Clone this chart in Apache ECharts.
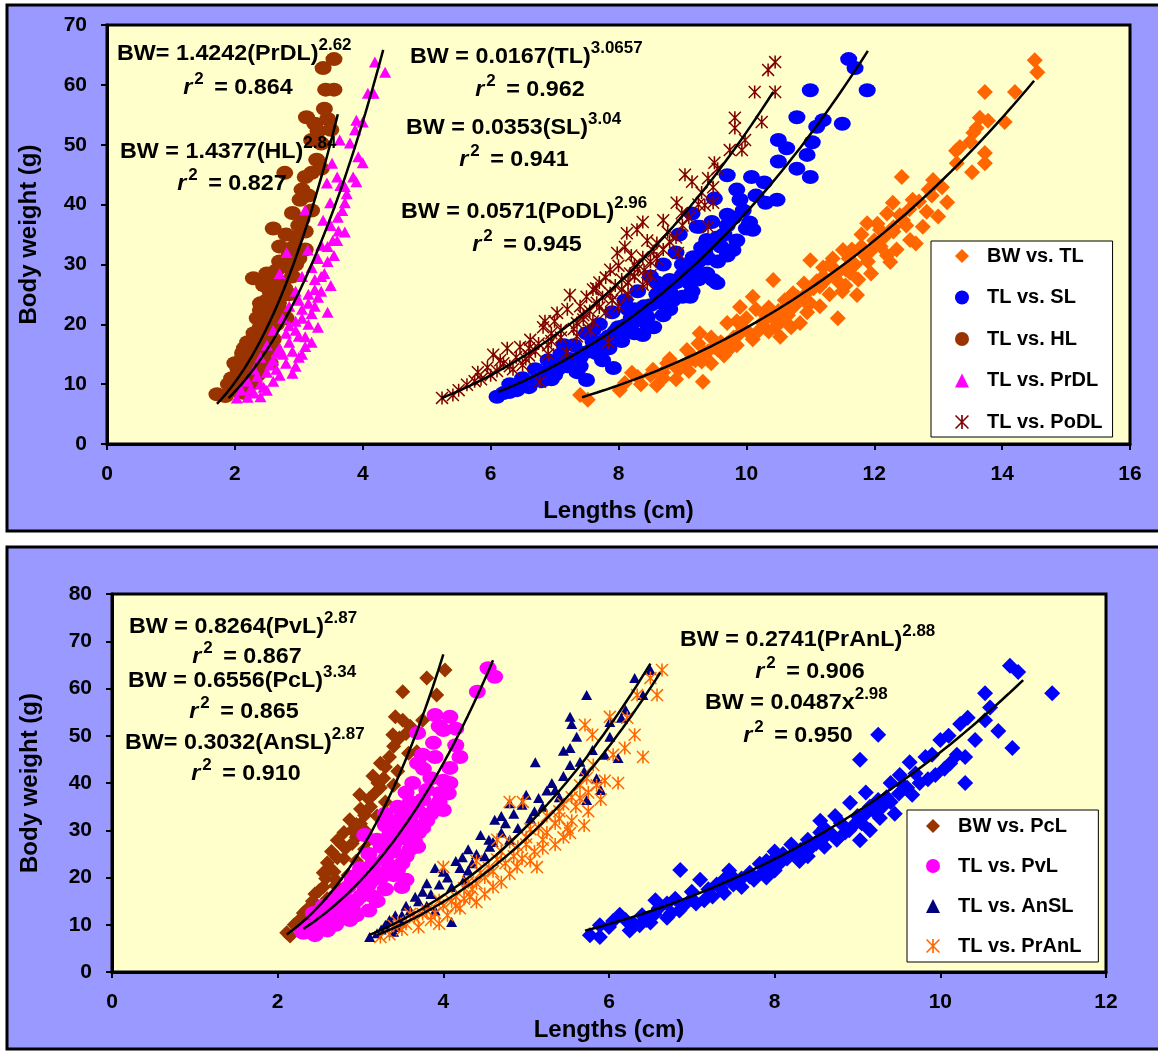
<!DOCTYPE html>
<html><head><meta charset="utf-8">
<script src="https://cdn.jsdelivr.net/npm/echarts@6/dist/echarts.min.js"></script>
<style>html,body{margin:0;padding:0;background:#fff}#c{width:1158px;height:1053px}</style>
</head><body><div id="c"></div>
<script>
// ================= DATA =================
// axis ticks
const topXTicks = [0, 2, 4, 6, 8, 10, 12, 14, 16];
const topYTicks = [0, 10, 20, 30, 40, 50, 60, 70];
const botXTicks = [0, 2, 4, 6, 8, 10, 12];
const botYTicks = [0, 10, 20, 30, 40, 50, 60, 70, 80];

// top panel series  [length cm, body weight g]
const top_BW_TL = [[14.51,64.1],[14.55,62.1],[13.73,58.8],[14.2,58.8],[13.65,54.5],[13.78,54],[14.04,53.8],[13.6,52.8],[13.55,52],[13.34,49.6],[13.28,49],[13.73,48.6],[13.73,46.9],[13.53,45.4],[13.29,46.9],[12.43,44.6],[12.92,44.1],[13.06,42.9],[12.29,40.3],[12.6,40.8],[13.14,40.4],[12.82,38.8],[12.76,36.3],[12.45,37.4],[11.89,36.9],[12.09,35.8],[12.56,34.1],[12.25,30.4],[11.51,32.4],[11.62,28.6],[11.0,30.7],[11.73,24.9],[11.43,21.0],[10.42,27.4],[10.1,24.6],[10.73,25.2],[10.84,20.2],[10.53,17.9],[9.9,22.9],[9.7,20.2],[9.27,18.5],[9.07,15.7],[8.76,13.5],[8.54,12.4],[8.21,11.9],[8.02,9.0],[9.32,10.4],[7.4,8.2],[7.52,7.4],[12.2,38.5],[12.0,34],[11.8,33],[12.35,32.5],[11.3,30],[11.6,31],[11.9,30.5],[11.2,28],[11.45,27],[11.75,27.5],[11.05,26],[11.3,25],[10.9,24],[11.15,23],[10.6,22.5],[10.95,22],[10.3,21.5],[10.55,20.5],[10.2,19],[10.45,19.5],[9.9,18.5],[10.1,17.5],[9.6,17],[9.85,16.5],[9.4,15.5],[9.65,14.8],[9.2,14],[9.45,13.5],[8.9,12.8],[9.1,12.2],[8.7,11],[8.9,10.8],[8.35,10],[8.6,9.8],[12.5,36.5],[12.9,41.5],[13.0,38],[11.95,28.5],[10.75,23],[12.65,33.5],[13.5,50.5],[12.1,33],[11.4,29],[10.65,21.5],[9.55,15.8],[8.1,10.2],[11.1,27.2],[12.3,35.5],[10.35,18.8],[9.75,16],
  [8.3,11.2],[8.5,11.5],[8.7,12],[8.95,12.5],[9.05,13.2],[9.3,13.8],[9.15,14.8],[9.35,15.2],[9.5,16.2],[9.7,16.8],[9.8,17.8],[9.95,19.3],[10.05,18.5],[10.25,20.3],[10.4,21.2],[10.5,22.2],[10.65,23.4],[10.8,24.5],[10.95,25.3],[11.15,26.3],[11.25,27.5],[11.4,28.3],[11.55,29.2],[11.7,30],[11.85,31.5],[11.95,32.3],[12.15,34.5],[12.3,36.2],[12.4,38.2],[12.55,39.2],[12.7,40.5],[12.85,42.5],[11.5,25.5],[11.0,23.5],[10.35,22.8],[9.85,20.5],[9.25,16.8],[8.8,14.2],[10.6,24],[11.2,29.5],[11.65,32.5],[12.05,36.8],[9.45,17.8],[10.0,21],[10.15,22.5],[10.9,26.8],[11.35,31],[11.8,35],[12.2,31.5],[11.55,26.5],[10.7,19.5]];
const top_TL_SL = [[11.6,64.3],[11.7,62.8],[11.89,59.1],[11.0,59.1],[10.79,54.6],[11.2,54.1],[11.5,53.5],[11.1,53],[11.03,50.4],[10.5,50.8],[10.63,49.4],[10.95,48.3],[10.5,47.2],[10.79,46],[11.0,44.6],[9.7,44.9],[10.08,44.6],[10.28,43.7],[10.48,40.8],[10.3,40.3],[9.9,40.8],[10.1,35.8],[10.05,37],[9.46,37.1],[9.27,36.3],[9.7,38.3],[9.38,34.1],[9.79,32.4],[9.17,31.2],[9.48,27.4],[9.38,28.5],[9.0,24.6],[8.8,27.4],[8.65,23.6],[8.45,21.2],[8.38,18.2],[8.02,18.5],[7.92,12.7],[7.5,10.7],[6.1,7.9],[6.41,9.0],[9.12,24.6],[9.54,26.9],[9.23,36.3],[9.6,33],[9.0,30],[9.2,29],[8.9,32],[8.7,30],[8.5,28],[8.75,26],[8.3,25.5],[8.6,25],[8.1,24],[8.4,23],[7.9,22],[8.2,21],[7.7,20],[8.0,19.5],[7.5,18.5],[7.8,17.5],[7.3,16.5],[7.6,16],[7.1,15],[7.4,14.5],[6.9,14],[7.2,13],[6.7,12.5],[7.0,11.5],[6.5,11],[6.8,10.5],[6.3,10],[6.6,9.5],[6.2,8.5],[8.8,22.5],[9.1,27],[8.55,19.5],[7.75,14],[7.35,12],[9.4,31],[9.65,35],[8.95,35],[9.15,38.5],[9.5,41],[9.85,42.5],[8.25,22.5],[7.6,17.2],[6.95,12.8],[8.6,27],[9.3,32.8],
  [6.3,8.7],[6.45,9.8],[6.55,10.2],[6.75,11.2],[6.85,12],[7.05,12.5],[7.15,13.8],[7.25,14.2],[7.45,15.2],[7.55,15.5],[7.7,16.8],[7.85,18],[7.95,18.8],[8.1,19.8],[8.25,20.5],[8.35,21.8],[8.5,23.2],[8.65,24.5],[8.8,25.5],[8.9,27],[9.0,28.2],[9.1,29.8],[9.25,30.5],[9.35,32],[9.45,33.5],[9.55,34.5],[9.7,36.5],[9.8,37.8],[9.95,39],[10.15,41.5],[7.0,13.3],[7.3,14],[7.65,15.2],[8.05,17.2],[8.45,20],[8.85,24],[9.25,27.5],[9.55,30.5],[9.7,31.5],[9.85,34],[10.0,36],[6.95,10.8],[7.4,13],[7.85,16],[8.25,18.5],[8.7,21.5],[9.15,25.5],[8.15,22.5],[7.6,19],[7.15,16.5]];
const top_TL_HL = [[3.38,62.8],[3.55,64.3],[3.42,59.2],[3.55,59.2],[3.12,54.6],[3.25,53.5],[3.45,54.3],[3.3,52.3],[3.2,50.8],[3.35,50.2],[3.1,44.6],[3.2,45.3],[2.78,45.3],[3.28,47.5],[3.35,46],[3.02,40.8],[3.15,41.5],[2.9,38.6],[3.05,37.5],[3.2,39],[2.6,36],[2.8,35],[2.95,34.5],[3.1,35.5],[2.7,33],[2.85,31.5],[3.0,31],[3.1,32.5],[2.29,27.7],[2.5,28.5],[2.65,29],[2.75,27],[2.9,28],[2.95,30],[2.55,25.5],[2.7,24.5],[2.85,25],[2.4,23.5],[2.6,22.5],[2.75,22],[2.5,24],[2.35,21],[2.5,20.5],[2.65,20],[2.8,21],[2.3,18.5],[2.45,18],[2.6,17.5],[2.2,17],[2.15,16],[2.3,15.5],[2.45,15],[2.6,16],[2.1,14],[2.25,13.5],[2.4,13],[2.55,13.5],[2.05,12.5],[2.2,12],[2.35,11.5],[1.95,11],[2.1,10.5],[2.25,10],[1.9,10],[2.0,9],[1.72,8.3],[1.85,8],[2.15,8.5],[2.4,19.5],[2.55,19],[2.35,16.5],[2.0,13.5],[2.45,26.5],[2.62,26.8],[2.85,29.5],
  [2.05,11.2],[2.18,13],[2.28,14.2],[2.38,16],[2.5,17.2],[2.55,21.5],[2.68,23.5],[2.78,26],[2.9,32.8],[3.0,36.5],[2.4,22.3],[2.12,15.2],[2.7,30.5],[3.05,42.5],[3.4,56],[3.5,52.5]];
const top_TL_PrDL = [[4.19,63.8],[4.35,62.1],[4.08,58.6],[4.17,58.6],[3.9,54.1],[4.0,53.8],[3.88,52.5],[3.64,50.8],[3.8,50.3],[3.93,48],[4.0,47],[3.52,46.9],[3.6,44.6],[3.85,44.6],[3.44,43.6],[3.65,43.2],[3.72,43],[3.9,43.8],[3.49,40.3],[3.72,40.3],[3.1,39.1],[3.38,37.4],[3.61,37.9],[3.62,35.6],[3.72,35.4],[3.53,34],[3.6,34],[2.81,32],[3.14,32.4],[3.3,31],[3.45,30.5],[3.55,31.5],[2.7,28.5],[3.05,28],[3.25,27.5],[3.4,28.5],[3.5,26.5],[2.95,25.5],[3.15,25],[3.35,25.5],[2.85,23],[3.05,22.5],[3.25,23],[3.45,22],[2.75,21],[2.95,20.5],[3.15,20],[3.3,19.5],[2.6,19],[2.8,18.5],[3.0,18],[3.1,17.9],[3.2,17],[2.5,16.5],[2.7,16],[2.9,15.5],[3.05,15],[2.4,14.5],[2.6,14],[2.8,13.5],[2.95,13],[2.3,12.5],[2.5,12],[2.7,11.5],[2.2,10.5],[2.4,10],[2.6,10.5],[2.1,9],[2.3,8.5],[2.5,9],[2.03,7.7],[2.2,7.8],[2.4,7.9],[3.2,29.5],[3.0,24],[2.85,19.8],[2.65,15.2],[3.35,33.2],
  [2.35,11.3],[2.55,13.2],[2.75,15],[2.85,17],[2.95,19],[3.05,21],[3.15,23.5],[3.25,25.8],[3.35,28],[3.45,33],[3.5,36.5],[3.68,39],[3.75,41.8],[2.45,9.5],[2.65,12.5],[3.0,14.5],[3.1,16.3],[3.2,21.8],[3.3,24.5],[2.9,11.8],[2.25,9.2]];
const top_TL_PoDL = [[10.45,63.8],[10.34,62.5],[10.13,58.8],[10.45,58.8],[9.82,54.5],[10.24,53.8],[9.82,52.8],[9.98,50.8],[9.93,49.1],[9.74,49.1],[9.5,47],[9.55,46],[9.04,45],[9.15,43.8],[9.4,44.4],[9.48,42.9],[8.91,40.3],[8.99,38.6],[9.35,39.9],[9.48,40.3],[9.4,36.3],[8.38,37.1],[8.29,35.8],[8.7,37.4],[8.77,35.4],[8.13,35.2],[8.1,32.9],[8.6,33.6],[8.93,31.9],[8.38,31.2],[7.98,31.9],[7.87,29.1],[8.18,28.5],[8.45,26.9],[8.38,26.6],[7.24,24.9],[7.5,24.6],[7.66,23.6],[7.87,25.2],[8.05,27.5],[8.25,30],[8.5,30.5],[7.7,27],[7.95,26.5],[8.15,25],[7.04,21.9],[7.35,20.2],[7.2,22.5],[7.45,21.5],[7.6,20.5],[7.8,22],[8.0,23],[6.82,19.5],[6.95,18.5],[7.1,19],[6.62,17.4],[6.75,16.8],[6.9,16.5],[6.46,16.2],[6.26,16],[6.4,14.5],[6.6,14.8],[6.04,14.9],[6.2,13.5],[5.8,12],[6.0,11.5],[5.95,12.8],[5.63,9.9],[5.75,10.5],[5.41,8.2],[5.24,7.7],[7.84,17],[6.77,10.4],[7.19,15.2],[7.35,18],[7.55,19],[6.5,13.2],[8.3,29.2],[7.6,25.8],[8.55,32.2],[6.85,20.5],
  [5.5,9],[5.85,10.8],[6.1,12.2],[6.3,13],[6.55,14.2],[6.7,15.5],[6.95,17.2],[7.1,17.8],[7.3,19.2],[7.45,20.8],[7.55,22.2],[7.7,22.8],[7.75,24.5],[7.9,24],[8.05,25.8],[8.15,27],[8.25,28],[8.4,29],[8.5,28.2],[8.6,31],[8.7,32.5],[8.8,33.8],[8.9,34.5],[9.0,36.5],[9.1,37.8],[9.25,40],[9.3,42],[7.0,20.5],[7.4,23],[7.8,27.8],[8.2,31.5],[8.0,29.8],[6.6,16],[6.15,14],[7.65,26],[8.45,34],[6.35,12.5],[6.9,15]];

// bottom panel series
const bot_BW_PcL = [[4.02,63.9],[3.8,62.2],[3.51,59.3],[3.92,58.6],[3.42,54],[3.51,53.3],[3.75,53.3],[3.39,50.2],[3.47,49.5],[3.68,46.6],[3.58,46.3],[3.24,44.2],[3.3,43.4],[3.45,42.5],[3.21,40],[3.24,39],[3.4,39.5],[2.99,37.5],[3.1,36.6],[3.3,36],[2.87,32.2],[3.0,31.4],[3.2,33],[3.35,31],[2.72,27.9],[2.78,26.8],[2.95,28.5],[3.1,28],[2.6,23.1],[2.63,22],[2.8,24],[2.95,23.5],[2.55,18],[2.7,19.5],[2.85,20.5],[2.47,14.2],[2.6,15.5],[2.75,16.5],[2.31,12.5],[2.38,11.5],[2.5,12],[2.2,10],[2.3,9.5],[2.11,8.3],[2.15,7.6],[3.0,34.5],[2.9,30],[2.65,25.5],[2.45,16.5],[3.6,52],[3.15,41.5],[2.8,29.5],[3.05,26],
  [2.25,10.8],[2.35,13.2],[2.42,15],[2.5,17.2],[2.58,19.8],[2.68,21.2],[2.72,24.2],[2.82,26.2],[2.9,27.2],[2.95,31.2],[3.05,33.2],[3.12,35],[3.18,38],[3.28,41],[3.35,45.5],[3.4,47.8],[3.55,50.5],[2.4,12.8],[2.55,21],[2.7,18.3],[3.05,30]];
const bot_TL_PvL = [[4.54,64.3],[4.62,62.5],[4.41,59.3],[3.9,54.4],[4.08,54],[4.0,51.2],[3.69,50.6],[3.88,48.5],[4.2,45.5],[4.08,43.2],[3.69,44.2],[3.76,43],[4.08,40],[3.96,37.9],[4.06,37.8],[3.63,40],[4.0,34.3],[3.9,35],[3.69,26.5],[3.5,18],[2.87,11],[2.31,8.3],[2.43,12.5],[3.55,38],[3.75,36.5],[3.45,35],[3.6,33],[3.8,32],[3.3,31],[3.5,30],[3.7,29.5],[3.2,28],[3.4,27],[3.6,26],[3.1,25],[3.3,24],[3.5,23],[3.0,22],[3.2,21],[3.4,20.5],[2.9,19.5],[3.1,18.5],[3.3,17.5],[2.8,17],[3.0,16],[3.2,15],[2.7,14.5],[2.9,13.5],[3.1,13],[2.6,12.5],[2.8,11.5],[2.5,11],[2.7,10],[2.4,9.5],[2.6,8.8],[2.3,8.5],[2.45,7.8],[3.85,41],[3.3,33.5],[3.05,29],[2.55,14],[3.65,31],[3.4,25.5],[2.95,20.5],[3.55,28.2],
  [2.35,9.5],[2.5,9.8],[2.55,11.5],[2.65,11.8],[2.75,13],[2.85,14.8],[2.95,15.2],[3.05,17],[3.15,19.5],[3.25,20],[3.35,22.5],[3.45,21.8],[3.55,24.5],[3.65,27.8],[3.75,30.5],[3.85,33.5],[3.95,36],[4.0,40.5],[3.9,45.5],[4.15,48],[3.8,38.5],[3.6,36],[3.45,32],[3.25,26.5],[3.15,23],[3.0,19],[2.85,18],[2.7,16],[3.35,29],[3.5,34],[3.7,34],[3.75,46],[3.95,52],[4.15,51.5],[2.95,12],[3.15,16],[2.6,10.5],[3.55,19.5]];
const bot_TL_AnSL = [[6.5,63.9],[6.31,62.2],[5.73,58.6],[6.41,58.6],[5.53,54],[5.55,52.5],[6.01,52.9],[6.15,53.8],[5.61,49.8],[6.01,49.8],[5.53,47.4],[5.45,46.8],[6.11,45.3],[5.11,44.4],[5.53,43.8],[5.31,40],[5.25,38.4],[5.73,36.4],[4.8,35.7],[4.95,35.4],[4.62,32.2],[4.7,33],[5.2,35],[5.05,32.5],[5.4,37],[4.23,24.3],[4.3,26],[4.56,26.5],[4.45,29],[4.7,29.5],[4.9,30.5],[4.15,23.5],[4.4,25],[4.6,27.5],[3.9,22],[3.8,18.8],[4.05,20],[4.3,21.5],[3.66,15.9],[3.85,16.5],[4.1,18],[3.42,12],[3.6,13],[3.8,14],[4.1,10.6],[3.3,10],[3.5,10.5],[3.11,7.4],[3.2,8.2],[3.4,8.5],[5.0,37.5],[5.85,41],[5.65,44.5],[5.9,38.5],[4.75,31.5],[6.2,55.5],
  [3.25,9],[3.35,11],[3.5,12],[3.55,14],[3.7,15],[3.75,17],[3.95,18.5],[4.0,21.2],[4.2,22],[4.35,23],[4.5,24.5],[4.55,28],[4.8,28],[4.85,33.5],[5.1,34],[5.15,36.8],[5.35,38.5],[5.45,41.5],[5.7,42.5],[5.8,47],[5.95,46],[4.25,19.5],[3.9,13],[3.45,9.5]];
const bot_TL_PrAnL = [[6.64,63.9],[6.5,62.2],[6.34,58.6],[6.58,58.6],[6.01,54],[6.22,53.8],[5.71,52.3],[5.8,50.2],[6.31,50.2],[6.19,47.4],[6.41,45.5],[6.11,40],[5.81,43.8],[5.73,41],[4.8,36],[4.96,36],[5.53,29.4],[5.13,22.2],[4.89,22.2],[4.32,15.9],[4.0,22.2],[3.24,7.4],[3.35,8],[3.5,9],[3.7,9.5],[3.45,10.5],[3.65,11.5],[3.85,11],[4.05,12],[3.8,13],[4.0,14],[4.2,13.5],[4.15,16],[4.35,17.5],[4.5,16.5],[4.3,19],[4.5,20],[4.7,19],[4.55,22],[4.75,23],[4.95,24],[4.7,25.5],[4.9,26.5],[5.1,25.5],[5.0,28.5],[5.2,28],[5.35,27],[5.15,30.5],[5.35,31.5],[5.55,32],[5.4,34],[5.6,35],[5.75,34],[5.55,37],[5.75,38],[5.9,36.5],[5.65,39.5],[5.95,40.5],[5.4,32.5],[4.65,28],[4.4,23.5],[6.05,46],
  [3.4,9.8],[3.55,10.2],[3.6,12.3],[3.75,12.3],[3.9,12.5],[3.95,15.2],[4.1,15],[4.25,15.5],[4.25,17.8],[4.4,18.8],[4.45,21],[4.6,21.3],[4.65,23.8],[4.85,24.5],[4.8,27.5],[5.0,27],[5.05,30.2],[5.25,29.5],[5.25,33],[5.45,35.5],[5.5,30.5],[5.65,36.8],[5.85,39.5],[5.45,28.5],[5.05,23.5],[4.6,18],[4.15,14],[3.95,10.2],[5.7,31],[5.2,26.2],[4.8,20.8],[4.4,14.8]];
const bot_BW_x = [[10.84,64.8],[10.94,63.5],[11.35,59.0],[10.54,59.0],[10.33,53.8],[10.24,52.5],[10.54,53.3],[10.42,49.1],[10.87,47.4],[10.3,45.5],[9.25,50.2],[10.0,49.1],[10.12,44.2],[9.94,41.7],[10.3,40],[9.63,44.4],[9.82,45.5],[9.03,44.9],[9.51,41.7],[9.66,37.5],[9.25,36.4],[8.91,35.8],[8.73,33],[9.27,32.6],[9.03,27.9],[8.31,25.8],[7.82,22.9],[7.1,19.5],[6.86,21.6],[7.39,16.7],[6.56,15.2],[6.37,9.9],[5.89,9.9],[5.77,7.8],[5.89,7.4],[6.13,12.1],[9.1,38],[9.4,40],[9.7,42],[9.9,46],[8.6,30.5],[8.8,31.5],[9.0,33],[9.15,35],[8.4,28],[8.6,28.5],[8.9,30],[8.2,27],[8.45,26.5],[8.1,25],[8.0,24],[8.3,23.5],[7.9,23.5],[7.7,21],[8.0,21.5],[7.5,20],[7.75,19.5],[7.3,18.5],[7.6,18],[7.0,17],[7.25,16],[6.8,15.5],[7.05,14.5],[6.6,13.5],[6.85,13],[6.4,12],[6.7,11.5],[6.2,11],[6.5,10.5],[6.0,9.5],[6.25,8.8],[9.35,37],[9.55,39.5],[10.1,50],[10.6,56],[10.7,51],[8.7,29],[7.45,21.5],[8.55,32],
  [6.05,10.8],[6.3,10.2],[6.45,11],[6.55,12.2],[6.75,12.5],[6.9,14],[7.0,15.5],[7.15,15.2],[7.2,17.5],[7.35,17.8],[7.5,18.5],[7.6,19.8],[7.7,20.2],[7.85,21],[7.95,22.2],[8.05,22.8],[8.15,24],[8.25,25],[8.35,26.2],[8.5,27.2],[8.6,26.5],[8.75,28],[8.85,29.5],[8.95,31],[9.05,31.5],[9.1,33.5],[9.2,34],[9.3,35],[9.4,36],[9.5,37.8],[9.6,39],[9.75,40],[9.85,40.8],[10.05,43],[10.2,46],[7.4,19.8],[8.0,25.5],[8.55,29.5],[9.45,33.5],[6.7,14.5],[7.9,20],[8.4,24.5],[9.15,30]];

// power-law fits shown on the chart: [a, b, xFrom, xTo]  (BW = a * L^b)
const fit_BW_TL   = [0.0167, 3.0657, 7.43, 14.5];
const fit_TL_SL   = [0.0353, 3.04, 6.12, 11.9];
const fit_TL_HL   = [1.4377, 2.84, 1.72, 3.61];
const fit_TL_PrDL = [1.4242, 2.62, 1.9, 4.32];
const fit_TL_PoDL = [0.0571, 2.96, 5.24, 10.42];
const fit_BW_PcL  = [0.6556, 3.34, 2.11, 4.0];
const fit_TL_PvL  = [0.8264, 2.87, 2.31, 4.6];
const fit_TL_AnSL = [0.3032, 2.87, 3.11, 6.5];
const fit_TL_PrAnL= [0.2741, 2.88, 3.2, 6.62];
const fit_BW_x    = [0.0487, 2.98, 5.71, 11.0];

// equation texts
const eqMain = ['BW= 1.4242(PrDL)', 'BW = 1.4377(HL)', 'BW = 0.0167(TL)', 'BW = 0.0353(SL)', 'BW = 0.0571(PoDL)',
                'BW = 0.8264(PvL)', 'BW = 0.6556(PcL)', 'BW= 0.3032(AnSL)', 'BW = 0.2741(PrAnL)', 'BW = 0.0487x'];
const eqPow  = ['2.62', '2.84', '3.0657', '3.04', '2.96', '2.87', '3.34', '2.87', '2.88', '2.98'];
const eqR2   = ['0.864', '0.827', '0.962', '0.941', '0.945', '0.867', '0.865', '0.910', '0.906', '0.950'];

// ================= LAYOUT / STYLE =================
const FONT = '"Liberation Sans", Arial, Helvetica, sans-serif';
const eqLayout = [ // [leftX of BW line, y of BW line, centerX of r2 line, y of r2 line]
  [117, 54, 238, 88], [120, 152, 232, 184], [410, 57, 530, 90], [406, 128, 514, 160], [401, 212, 527, 245],
  [129, 627, 247, 657], [128, 681, 244, 712], [125, 743, 246, 774], [680, 640, 810, 672], [705, 703, 798, 736]
];
const EQ_SIZE = 22, SUP_SIZE = 16, EQ_SCALE = 1.06;
const ASTER = 'path://M44 0 L56 0 L56 100 L44 100 Z M0 8 L8 0 L100 92 L92 100 Z M92 0 L100 8 L8 100 L0 92 Z';

const mctx = document.createElement('canvas').getContext('2d');
function fontStr(size, italic) { return (italic ? 'italic ' : '') + 'bold ' + size + 'px ' + FONT; }
function tw(t, size, italic) { mctx.font = fontStr(size, italic); return mctx.measureText(t).width; }

function textPieces(pieces, ax, y, center) {
  const ws = pieces.map(p => tw(p.t, p.size, p.italic) * EQ_SCALE + (p.gap || 0));
  const total = ws.reduce((a, b) => a + b, 0);
  let x = center ? ax - total / 2 : ax;
  const out = [];
  pieces.forEach((p, i) => {
    out.push({
      type: 'text', x: x, y: y + (p.dy || 0), scaleX: EQ_SCALE, silent: true, z: 100,
      style: { text: p.t, x: 0, y: 0, font: fontStr(p.size, p.italic), fill: '#000',
               textAlign: 'left', textVerticalAlign: 'middle', align: 'left', verticalAlign: 'middle' }
    });
    x += ws[i];
  });
  return out;
}

let graphics = [
  { type: 'rect', z: -10, silent: true, shape: { x: 7, y: 5, width: 1162, height: 526 },
    style: { fill: '#9999FF', stroke: '#000', lineWidth: 3 } },
  { type: 'rect', z: -10, silent: true, shape: { x: 7, y: 547, width: 1162, height: 502 },
    style: { fill: '#9999FF', stroke: '#000', lineWidth: 3 } }
];
eqMain.forEach((m, i) => {
  const L = eqLayout[i];
  graphics = graphics.concat(textPieces([
    { t: m, size: EQ_SIZE },
    { t: eqPow[i], size: SUP_SIZE, dy: -8 }
  ], L[0], L[1], false));
  graphics = graphics.concat(textPieces([
    { t: 'r', size: EQ_SIZE, italic: true, gap: 2 },
    { t: '2', size: SUP_SIZE, dy: -8, gap: 4 },
    { t: ' = ' + eqR2[i], size: EQ_SIZE }
  ], L[2], L[3], true));
});

function scatter(name, data, symbol, size, color, gi) {
  return { type: 'scatter', name, data, symbol, symbolSize: size, xAxisIndex: gi, yAxisIndex: gi,
           itemStyle: { color, opacity: 1 }, z: 2, silent: true, emphasis: { disabled: true } };
}
function trend(fit, gi) {
  const [a, b, x0, x1] = fit, n = 60, pts = [];
  for (let i = 0; i <= n; i++) { const x = x0 + (x1 - x0) * i / n; pts.push([x, a * Math.pow(x, b)]); }
  return { type: 'line', data: pts, showSymbol: false, symbol: 'none', lineStyle: { color: '#000', width: 2.5 },
           xAxisIndex: gi, yAxisIndex: gi, z: 5, silent: true, emphasis: { disabled: true } };
}
function xAx(gi, ticks, gap) {
  return { gridIndex: gi, type: 'value', min: ticks[0], max: ticks[ticks.length - 1], interval: ticks[1] - ticks[0],
    name: 'Lengths (cm)', nameLocation: 'middle', nameGap: gap,
    nameTextStyle: { fontFamily: FONT, fontWeight: 'bold', fontSize: 24, color: '#000' },
    axisLine: { show: true, onZero: false, lineStyle: { color: '#000', width: 3 } },
    axisTick: { show: true, length: 6, lineStyle: { color: '#000', width: 2 } },
    axisLabel: { margin: 20, color: '#000', fontSize: 21, fontWeight: 'bold', fontFamily: FONT },
    splitLine: { show: false } };
}
function yAx(gi, ticks, gap) {
  return { gridIndex: gi, type: 'value', min: ticks[0], max: ticks[ticks.length - 1], interval: ticks[1] - ticks[0],
    name: 'Body weight (g)', nameLocation: 'middle', nameGap: gap,
    nameTextStyle: { fontFamily: FONT, fontWeight: 'bold', fontSize: 24, color: '#000' },
    axisLine: { show: true, onZero: false, lineStyle: { color: '#000', width: 3 } },
    axisTick: { show: true, length: 6, lineStyle: { color: '#000', width: 2 } },
    axisLabel: { margin: 20, color: '#000', fontSize: 21, fontWeight: 'bold', fontFamily: FONT },
    splitLine: { show: false } };
}
const legendText = { fontFamily: FONT, fontWeight: 'bold', fontSize: 20, color: '#000', lineHeight: 20, padding: [0, 0, 0, 13] };

const option = {
  animation: false,
  backgroundColor: '#fff',
  grid: [
    { left: 107, right: 28, top: 25, bottom: 609, show: true, backgroundColor: '#FFFFCC', borderColor: '#000', borderWidth: 3, containLabel: false },
    { left: 112, right: 52, top: 594, bottom: 81, show: true, backgroundColor: '#FFFFCC', borderColor: '#000', borderWidth: 3, containLabel: false }
  ],
  xAxis: [xAx(0, topXTicks, 55), xAx(1, botXTicks, 46)],
  yAxis: [yAx(0, topYTicks, 66), yAx(1, botYTicks, 70)],
  legend: [
    { data: ['BW vs. TL', 'TL vs. SL', 'TL vs. HL', 'TL vs. PrDL', 'TL vs. PoDL'], orient: 'vertical',
      left: 931, top: 241, itemWidth: 14, itemHeight: 14, itemGap: 21.5, padding: [5, 10, 5, 24],
      backgroundColor: '#fff', borderColor: '#000', borderWidth: 1, borderRadius: 0,
      textStyle: legendText, selectedMode: false, z: 50 },
    { data: ['BW vs. PcL', 'TL vs. PvL', 'TL vs. AnSL', 'TL vs. PrAnL'], orient: 'vertical',
      left: 907, top: 810, itemWidth: 14, itemHeight: 14, itemGap: 20, padding: [6, 17, 6, 19],
      backgroundColor: '#fff', borderColor: '#000', borderWidth: 1, borderRadius: 0,
      textStyle: legendText, selectedMode: false, z: 50 }
  ],
  graphic: graphics,
  series: [
    scatter('BW vs. TL', top_BW_TL, 'diamond', [16, 16], '#FF6600', 0),
    scatter('TL vs. SL', top_TL_SL, 'circle', [17, 14], '#0000FF', 0),
    scatter('TL vs. HL', top_TL_HL, 'circle', [17, 14], '#993300', 0),
    scatter('TL vs. PrDL', top_TL_PrDL, 'triangle', [12, 11], '#FF00FF', 0),
    scatter('TL vs. PoDL', top_TL_PoDL, ASTER, [13, 13], '#800000', 0),
    trend(fit_BW_TL, 0), trend(fit_TL_SL, 0), trend(fit_TL_HL, 0), trend(fit_TL_PrDL, 0), trend(fit_TL_PoDL, 0),
    scatter('BW vs. x', bot_BW_x, 'diamond', [16, 16], '#0000FF', 1),
    scatter('BW vs. PcL', bot_BW_PcL, 'diamond', [15, 15], '#993300', 1),
    scatter('TL vs. PvL', bot_TL_PvL, 'circle', [17, 14], '#FF00FF', 1),
    scatter('TL vs. AnSL', bot_TL_AnSL, 'triangle', [11, 10], '#000080', 1),
    scatter('TL vs. PrAnL', bot_TL_PrAnL, ASTER, [13, 13], '#FF6600', 1),
    trend(fit_BW_x, 1), trend(fit_BW_PcL, 1), trend(fit_TL_PvL, 1), trend(fit_TL_AnSL, 1), trend(fit_TL_PrAnL, 1)
  ]
};
const chart = echarts.init(document.getElementById('c'), null, { renderer: 'canvas' });
chart.setOption(option);
</script>
</body></html>
